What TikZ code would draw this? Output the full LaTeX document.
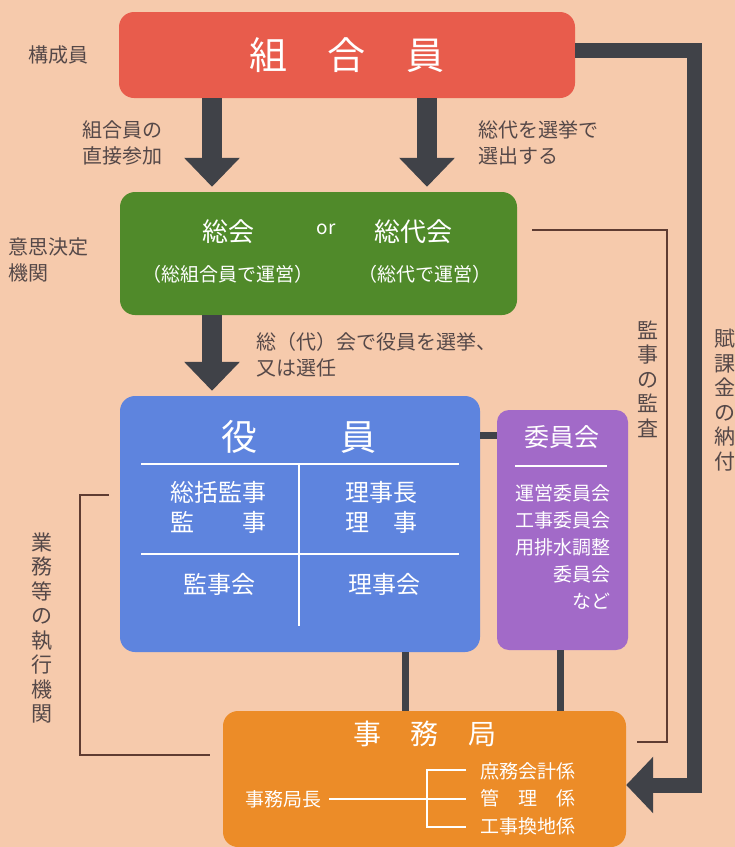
\documentclass[tikz,border=0pt]{standalone}
\usepackage{fontspec}
\setmainfont{Noto Sans CJK JP}
\usetikzlibrary{arrows.meta}
\definecolor{bg}{RGB}{246,202,172}
\definecolor{cred}{RGB}{232,92,76}
\definecolor{cgreen}{RGB}{80,138,42}
\definecolor{cblue}{RGB}{94,132,222}
\definecolor{cpurple}{RGB}{162,106,200}
\definecolor{corange}{RGB}{236,140,40}
\definecolor{dark}{RGB}{64,66,72}
\definecolor{thinc}{RGB}{95,60,50}
\definecolor{labc}{RGB}{85,72,72}
\begin{document}
\begin{tikzpicture}[x=1pt,y=-1pt,
  box/.style={rounded corners=15pt, inner sep=0pt},
  wtxt/.style={text=white, inner sep=0pt},
  lab/.style={text=labc, inner sep=0pt, align=left, font=\fontsize{20}{26}\selectfont},
  vlab/.style={text=labc, inner sep=0pt, align=center, font=\fontsize{21}{24.5}\selectfont},
  bigarrow/.style={draw=dark, line width=20pt, -{Triangle[width=54pt,length=29pt]}},
  rarrow/.style={draw=dark, line width=15pt, -{Triangle[width=55pt,length=27pt]}},
  medline/.style={draw=dark, line width=7pt},
  thinline/.style={draw=thinc, line width=1.6pt},
  wline/.style={draw=white, line width=2.5pt},
  wthin/.style={draw=white, line width=2pt}]
\fill[bg] (0,0) rectangle (735,847);
\clip (0,0) rectangle (735,847);

% boxes
\node[box, fill=cred, minimum width=456pt, minimum height=86pt] (kumiai) at (347,55) {};
\node[box, fill=cgreen, minimum width=397pt, minimum height=123pt] (soukai) at (318.5,253.5) {};
\node[box, fill=cblue, minimum width=360pt, minimum height=256pt] (yakuin) at (300,524) {};
\node[box, rounded corners=12pt, fill=cpurple, minimum width=131pt, minimum height=240pt] (iinkai) at (562.5,530) {};
\node[box, fill=corange, minimum width=403pt, minimum height=136pt] (jimu) at (424.5,779) {};

% box texts
\node[wtxt, font=\fontsize{38}{38}\selectfont] (t1) at (347,55) {組\hspace{41pt}合\hspace{41pt}員};
\node[wtxt, font=\fontsize{26}{26}\selectfont] (t2a) at (228,232) {総会};
\node[wtxt, font=\fontsize{19}{19}\selectfont] (t2b) at (326,229) {or};
\node[wtxt, font=\fontsize{26}{26}\selectfont] (t2c) at (413,232) {総代会};
\node[wtxt, font=\fontsize{19}{19}\selectfont] (t2d) at (228,274) {（総組合員で運営）};
\node[wtxt, font=\fontsize{19}{19}\selectfont] (t2e) at (425,274) {（総代で運営）};

\node[wtxt, font=\fontsize{36}{36}\selectfont] (t3) at (299,437) {役\hspace{84pt}員};
\draw[wline] (141,464) -- (459,464);
\draw[wline] (141,554) -- (459,554);
\draw[wline] (299,464) -- (299,626);
\node[wtxt, font=\fontsize{24}{30}\selectfont, align=left] (t3a) at (218,507) {総括監事\\監\hspace{2em}事};
\node[wtxt, font=\fontsize{24}{30}\selectfont, align=left] (t3b) at (381,507) {理事長\\理\hspace{1em}事};
\node[wtxt, font=\fontsize{24}{24}\selectfont] (t3c) at (219,584) {監事会};
\node[wtxt, font=\fontsize{24}{24}\selectfont] (t3d) at (384,584) {理事会};

\node[wtxt, font=\fontsize{25}{25}\selectfont] (t4) at (562,437) {委員会};
\draw[wline] (515,466) -- (607,466);
\node[wtxt, anchor=east, align=right, font=\fontsize{19}{27}\selectfont] (t4a) at (611,547)
  {運営委員会\\工事委員会\\用排水調整\\委員会\\など};

\node[wtxt, font=\fontsize{28}{28}\selectfont] (t5) at (425,734) {事\hspace{30pt}務\hspace{30pt}局};
\node[wtxt, font=\fontsize{19}{19}\selectfont] (t5a) at (283,799) {事務局長};
\node[wtxt, anchor=west, align=left, font=\fontsize{19}{27.5}\selectfont] (t5b) at (480,798.5)
  {庶務会計係\\管\hspace{1em}理\hspace{1em}係\\工事換地係};
\coordinate (bk1) at (427,770);
\coordinate (bk2) at (427,799);
\coordinate (bk3) at (427,827);
\draw[wthin] ([xshift=8pt]t5a.east) -- (bk2) -- ([xshift=-14pt]t5b.west |- bk2);
\draw[wthin] ([xshift=-14pt]t5b.west |- bk1) -- (bk1) -- (bk3) -- ([xshift=-14pt]t5b.west |- bk3);

% big arrows
\coordinate (ax1) at (212,0);
\coordinate (ax2) at (427,0);
\draw[bigarrow] (kumiai.south -| ax1) -- ([yshift=5pt]soukai.north -| ax1);
\draw[bigarrow] (kumiai.south -| ax2) -- ([yshift=5pt]soukai.north -| ax2);
\draw[bigarrow] (soukai.south -| ax1) -- ([yshift=5pt]yakuin.north -| ax1);

% right arrow
\coordinate (rc) at (694.5,785);
\draw[rarrow] ([yshift=4.5pt]kumiai.east) -| (rc) -- (jimu.east |- rc);

% connectors
\coordinate (cy) at (0,435);
\coordinate (cx1) at (405,0);
\coordinate (cx2) at (560,0);
\draw[medline] (yakuin.east |- cy) -- (iinkai.west |- cy);
\draw[medline] (yakuin.south -| cx1) -- (jimu.north -| cx1);
\draw[medline] (iinkai.south -| cx2) -- (jimu.north -| cx2);

% audit line
\coordinate (kc1) at (667,230);
\coordinate (kc2) at (667,742);
\draw[thinline] ([xshift=15pt]soukai.east |- kc1) -- (kc1) -- (kc2) -- ([xshift=11pt]jimu.east |- kc2);

% left bracket
\coordinate (lb1) at (80,495);
\coordinate (lb2) at (80,755);
\draw[thinline] ([xshift=-11pt]yakuin.west |- lb1) -- (lb1) -- (lb2) -- ([xshift=-13pt]jimu.west |- lb2);

% labels
\node[lab] (l1) at (58,55) {構成員};
\node[lab, anchor=east] (l2) at (163,143) {組合員の\\直接参加};
\node[lab, anchor=west] (l3) at (478,143) {総代を選挙で\\選出する};
\node[lab, anchor=west] (l4) at (8,260) {意思決定\\機関};
\node[lab, anchor=west] (l5) at (256,355) {総（代）会で役員を選挙、\\又は選任};
\node[vlab] (v1) at (648,379) {監\\事\\の\\監\\査};
\node[vlab] (v2) at (725,400) {賦\\課\\金\\の\\納\\付};
\node[vlab] (v3) at (42,628) {業\\務\\等\\の\\執\\行\\機\\関};
\end{tikzpicture}
\end{document}
